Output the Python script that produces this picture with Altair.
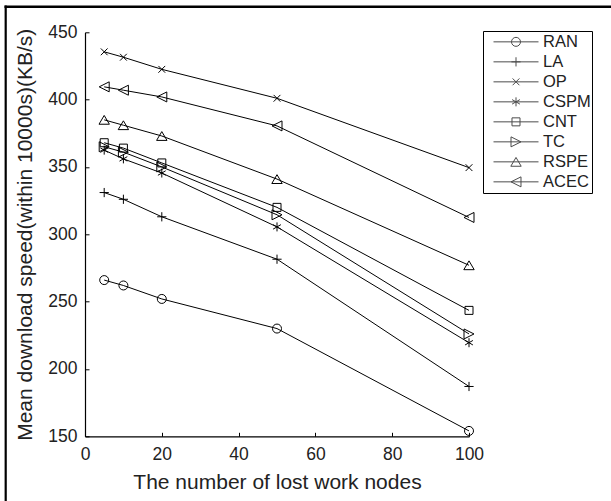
import altair as alt
import pandas as pd

# ---------------- data ----------------
nodes = [5, 10, 20, 50, 100]
series_names = ["RAN", "LA", "OP", "CSPM", "CNT", "TC", "RSPE", "ACEC"]
ran = [266, 262, 252, 230, 154]
la = [331, 326, 313, 281.5, 187]
op = [435.5, 431.5, 422.5, 401, 349.5]
cspm = [362.5, 356, 345.5, 305.5, 219.5]
cnt = [368, 364, 353, 320, 243.5]
tc = [365, 361, 350, 314.5, 226]
rspe = [385, 381, 373, 341, 277]
acec = [409.5, 407, 402, 380.5, 312.5]
x_ticks = [0, 20, 40, 60, 80, 100]
y_ticks = [150, 200, 250, 300, 350, 400, 450]
x_title = "The number of lost work nodes"
y_title = "Mean download speed(within 10000s)(KB/s)"

values = [ran, la, op, cspm, cnt, tc, rspe, acec]
rows = []
for name, vals in zip(series_names, values):
    for n, v in zip(nodes, vals):
        rows.append({"series": name, "nodes": n, "speed": v})
df = pd.DataFrame(rows)

# ---------------- marker styling ----------------
FONT = "Liberation Sans"
W, H = 384, 404
PAD_L, PAD_T = 85, 32.3
TOTAL_W, TOTAL_H = 611, 501

marker_kind = ["circle", "plus", "x", "asterisk", "square", "tri_right", "tri_up", "tri_left"]


def r3(v):
    return f"{v:.3f}".rstrip("0").rstrip(".") if v != 0 else "0"


def marker_path(kind, unit):
    def u(px):
        return r3(px / unit)

    if kind == "circle":
        r = u(4.5)
        return f"M-{r},0A{r},{r},0,1,0,{r},0A{r},{r},0,1,0,-{r},0Z"
    if kind == "plus":
        h = u(4.6)
        return f"M-{h},0L{h},0M0,-{h}L0,{h}"
    if kind == "x":
        h = u(3.4)
        return f"M-{h},-{h}L{h},{h}M-{h},{h}L{h},-{h}"
    if kind == "asterisk":
        h = u(4.5)
        a = u(4.5 * 0.866)
        b = u(4.5 * 0.5)
        return f"M0,-{h}L0,{h}M-{a},-{b}L{a},{b}M-{a},{b}L{a},-{b}"
    if kind == "square":
        h = u(4.0)
        return f"M-{h},-{h}L{h},-{h}L{h},{h}L-{h},{h}Z"
    if kind == "tri_right":
        w = u(5.0)
        h = u(5.0)
        return f"M-{w},-{h}L{w},0L-{w},{h}Z"
    if kind == "tri_up":
        w = u(5.2)
        h = u(4.4)
        return f"M0,-{h}L{w},{h}L-{w},{h}Z"
    if kind == "tri_left":
        w = u(5.0)
        h = u(5.0)
        return f"M{w},-{h}L-{w},0L{w},{h}Z"
    return "M0,0"


PT_UNIT = 10.0            # size 400 -> 20 px box -> 10 px per unit
LG_UNIT = 22.5            # size 2025 -> 45 px box
point_shapes = [marker_path(k, PT_UNIT) for k in marker_kind]
legend_shapes = ["M-1,0L1,0" + marker_path(k, LG_UNIT) for k in marker_kind]

xscale = alt.Scale(domain=[0, 100], nice=False, zero=False)
yscale = alt.Scale(domain=[150, 450], nice=False, zero=False)

common_axis = dict(
    grid=False, domainColor="black", domainWidth=1.2,
    labelFont=FONT, titleFont=FONT, labelColor="#222", titleColor="#222",
    titleFontWeight="normal", labelFontSize=17.5, titleFontSize=21,
    labelOverlap=False,
)

lines = alt.Chart(df).mark_line(color="black", strokeWidth=1).encode(
    x=alt.X("nodes:Q", scale=xscale,
            axis=alt.Axis(values=x_ticks, ticks=False, tickSize=0, labelPadding=9,
                          title=x_title, titlePadding=9, labelFlush=False, **common_axis)),
    y=alt.Y("speed:Q", scale=yscale,
            axis=alt.Axis(values=y_ticks, ticks=False, tickSize=0, labelPadding=8,
                          title=y_title, titlePadding=12, labelFlush=False, **common_axis)),
    detail="series:N",
)

points = alt.Chart(df).mark_point(filled=False, color="black", strokeWidth=1, opacity=1, size=400).encode(
    x=alt.X("nodes:Q", scale=xscale,
            axis=alt.Axis(orient="top", offset=-H, values=x_ticks, labels=False, domain=False,
                          ticks=True, tickSize=4, tickColor="black", tickWidth=1, title=None, grid=False)),
    y=alt.Y("speed:Q", scale=yscale,
            axis=alt.Axis(orient="right", offset=-W, values=y_ticks, labels=False, domain=False,
                          ticks=True, tickSize=4, tickColor="black", tickWidth=1, title=None, grid=False)),
    shape=alt.Shape("series:N", scale=alt.Scale(domain=series_names, range=point_shapes), legend=None),
)

legend_layer = alt.Chart(df).mark_point(filled=False, color="black", strokeWidth=1).encode(
    x=alt.X("nodes:Q", scale=xscale, axis=None),
    y=alt.Y("speed:Q", scale=yscale, axis=None),
    shape=alt.Shape(
        "series:N",
        scale=alt.Scale(domain=series_names, range=legend_shapes),
        legend=alt.Legend(
            orient="none", legendX=398, legendY=-1.3, title=None,
            strokeColor="black", fillColor="white", padding=1,
            symbolSize=2025, symbolStrokeWidth=1, symbolStrokeColor="black",
            symbolFillColor="transparent", symbolOffset=9,
            labelFont=FONT, labelFontSize=16.5, labelColor="#222", labelOffset=4,
            clipHeight=19.7, rowPadding=0,
            labelExpr="datum.label + '\u00a0\u00a0\u00a0'",
        ),
    ),
).transform_filter("false")

# outer figure frame (left and top edges) as thin filled bars
frame_df = pd.DataFrame({"f": [0]})
frame_top = alt.Chart(frame_df).mark_rect(color="black", strokeWidth=0).encode(
    x=alt.value(4.5 - PAD_L), x2=alt.value(TOTAL_W - PAD_L),
    y=alt.value(5.5 - PAD_T), y2=alt.value(8.0 - PAD_T)
)
frame_left = alt.Chart(frame_df).mark_rect(color="black", strokeWidth=0).encode(
    x=alt.value(4.6 - PAD_L), x2=alt.value(6.8 - PAD_L),
    y=alt.value(5.5 - PAD_T), y2=alt.value(TOTAL_H - PAD_T)
)

chart = alt.layer(lines, points, legend_layer, frame_top, frame_left).resolve_scale(
    shape="independent"
).resolve_axis(
    x="independent", y="independent"
).properties(
    width=W, height=H,
    autosize=alt.AutoSizeParams(type="none"),
    padding={"left": PAD_L, "top": PAD_T, "right": TOTAL_W - PAD_L - W, "bottom": TOTAL_H - PAD_T - H},
    background="white",
).configure_view(stroke=None)

chart.save("out.html", embed_options={"renderer": "svg", "actions": False})
